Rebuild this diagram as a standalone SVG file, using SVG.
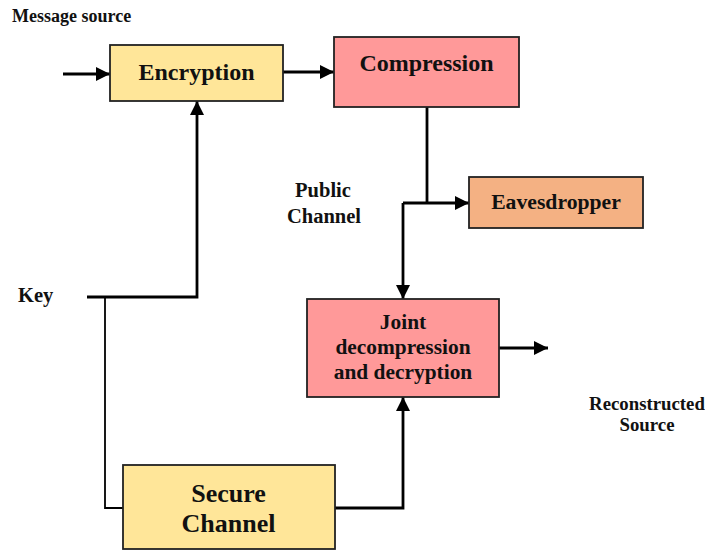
<svg xmlns="http://www.w3.org/2000/svg" width="705" height="550" viewBox="0 0 705 550">
  <style>
    text { font-family: "Liberation Serif", "Times New Roman", serif; font-weight: bold; fill: #111; }
    .box { stroke: #222; stroke-width: 1.8; }
    .yellow { fill: #FFE699; }
    .pink { fill: #FF9999; }
    .orange { fill: #F4B183; }
    .wire { fill: none; stroke: #000; stroke-width: 2.8; }
    .thin { fill: none; stroke: #000; stroke-width: 1.8; }
    .c { text-anchor: middle; }
  </style>
  <defs>
    <marker id="arrow" viewBox="0 0 10 10" refX="10" refY="5" markerWidth="5.5" markerHeight="5" markerUnits="strokeWidth" orient="auto">
      <path d="M0,0 L10,5 L0,10 Z" fill="#000"/>
    </marker>
  </defs>

  <!-- free labels -->
  <text x="12" y="22" font-size="18">Message source</text>
  <text x="323" y="197" font-size="20.5" class="c">Public</text>
  <text x="324" y="223" font-size="20.5" class="c">Channel</text>
  <text x="18" y="302" font-size="20.5">Key</text>
  <text x="647" y="410" font-size="18.8" class="c">Reconstructed</text>
  <text x="647" y="431" font-size="18.8" class="c">Source</text>

  <!-- connectors -->
  <g id="connectors">
    <path class="wire" d="M63,74 L110,74" marker-end="url(#arrow)"/>
    <path class="wire" d="M283,72 L334,72" marker-end="url(#arrow)"/>
    <path class="wire" d="M427,107 L427,203"/>
    <path class="wire" d="M403,203 L469,203" marker-end="url(#arrow)"/>
    <path class="wire" d="M403,203 L403,299" marker-end="url(#arrow)"/>
    <path class="wire" d="M499,348 L548,348" marker-end="url(#arrow)"/>
    <path class="wire" d="M87,297 L197,297 L197,101" marker-end="url(#arrow)"/>
    <path class="thin" d="M105,297 L105,508 L123,508"/>
    <path class="wire" d="M335,508 L403,508 L403,397" marker-end="url(#arrow)"/>
  </g>

  <!-- nodes -->
  <g id="encryption">
    <rect class="box yellow" x="110" y="45" width="173" height="56"/>
    <text x="196.5" y="80" font-size="24" class="c">Encryption</text>
  </g>
  <g id="compression">
    <rect class="box pink" x="334" y="37" width="185" height="70"/>
    <text x="426.5" y="71" font-size="24" class="c">Compression</text>
  </g>
  <g id="eavesdropper">
    <rect class="box orange" x="469" y="177" width="174" height="51"/>
    <text x="556" y="209" font-size="21.7" class="c">Eavesdropper</text>
  </g>
  <g id="joint">
    <rect class="box pink" x="307" y="299" width="192" height="98"/>
    <text x="403" y="329" font-size="21.4" class="c">Joint</text>
    <text x="403" y="354" font-size="21.4" class="c">decompression</text>
    <text x="403" y="379" font-size="21.4" class="c">and decryption</text>
  </g>
  <g id="secure">
    <rect class="box yellow" x="123" y="465" width="212" height="84"/>
    <text x="228.5" y="502" font-size="26" class="c">Secure</text>
    <text x="228.5" y="532" font-size="26" class="c">Channel</text>
  </g>
</svg>
